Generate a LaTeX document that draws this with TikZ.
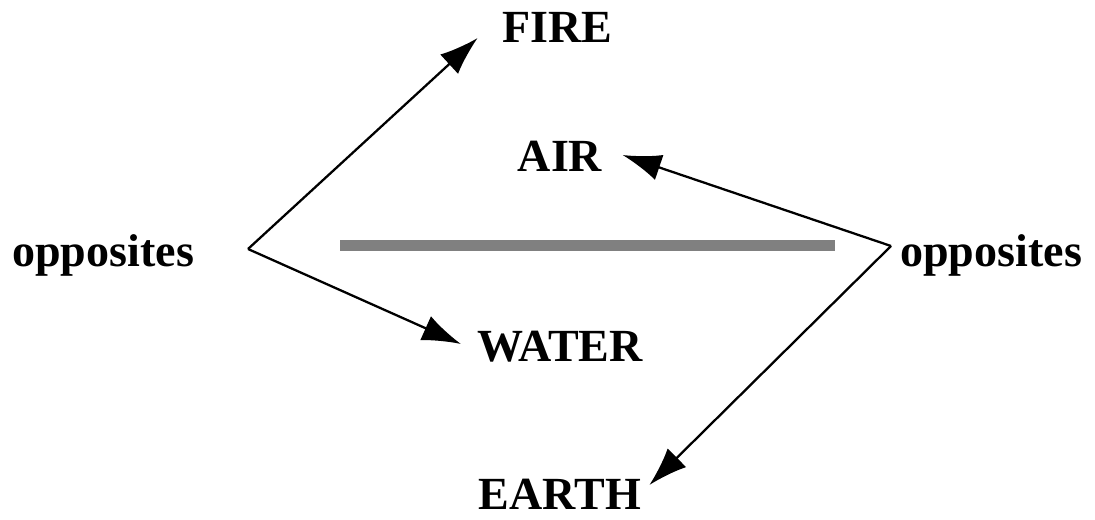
\documentclass[tikz,border=0pt]{standalone}
\usepackage{fontspec}
\setmainfont{Liberation Serif}
\usepackage{tikz}
\usetikzlibrary{arrows.meta}

\begin{document}
\begin{tikzpicture}[x=0.02cm, y=-0.02cm, every node/.style={inner sep=0pt, font=\fontsize{26.2}{30}\selectfont\bfseries}, link/.style={line width=1.3pt, -{Latex[length=22pt,width=15pt]}}, >=Latex]
\useasboundingbox (0,0) rectangle (1095,520);
\node[anchor=base] (fire) at (557,43) {FIRE};
\node[anchor=base] (air) at (560,172) {AIR};
\node[anchor=base west] (oppl) at (12,266) {opposites};
\node[anchor=base west] (oppr) at (900,266) {opposites};
\node[anchor=base] (water) at (560,361) {WATER};
\node[anchor=base] (earth) at (560,509) {EARTH};
\coordinate (lsrc) at (248,249);
\coordinate (rsrc) at (891,246);
\draw[gray, line width=5.7pt] (340,245.5) -- (835,245.5);
\draw[link] (lsrc) -- ([shift={(-24,-5)}]fire.base west);
\draw[link] (lsrc) -- ([shift={(-16,-17)}]water.base west);
\draw[link] (rsrc) -- ([shift={(20,-17)}]air.base east);
\draw[link] (rsrc) -- ([shift={(8,-24)}]earth.base east);
\end{tikzpicture}
\end{document}
